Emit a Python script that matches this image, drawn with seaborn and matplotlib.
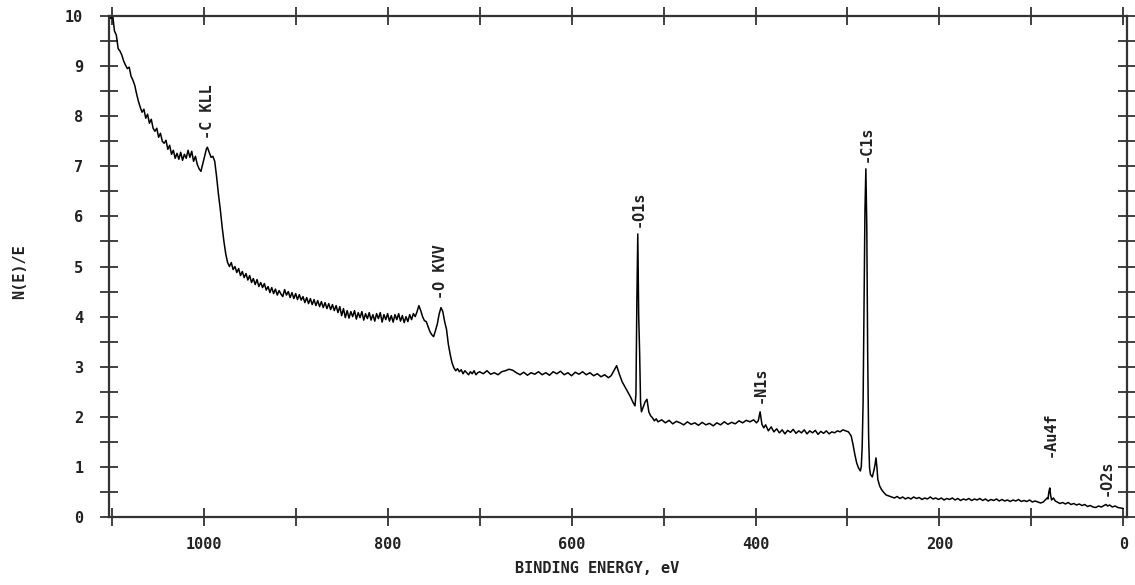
import numpy as np
import pandas as pd
import matplotlib
matplotlib.use("Agg")
import matplotlib.pyplot as plt
from matplotlib.ticker import MultipleLocator
import seaborn as sns

# ---- data (binding energy in eV, N(E)/E) ----
energy_ev = [
    1103, 1101, 1099, 1097, 1095, 1093, 1091, 1089, 1087, 1085, 1083, 1081, 1079, 1077, 1075,
    1073, 1071, 1069, 1067, 1065, 1063, 1061, 1059, 1057, 1055, 1053, 1051, 1049, 1047, 1045,
    1043, 1041, 1039, 1037, 1035, 1033, 1031, 1029, 1027, 1025, 1023, 1021, 1019, 1017, 1015,
    1013, 1011, 1009, 1007, 1005, 1003, 1001, 999, 997, 996, 994, 992, 990, 988, 986,
    984, 982, 980, 978, 976, 974, 972, 970, 968, 966, 964, 962, 960, 958, 956,
    954, 952, 950, 948, 946, 944, 942, 940, 938, 936, 934, 932, 930, 928, 926,
    924, 922, 920, 918, 916, 914, 912, 910, 908, 906, 904, 902, 900, 898, 896,
    894, 892, 890, 888, 886, 884, 882, 880, 878, 876, 874, 872, 870, 868, 866,
    864, 862, 860, 858, 856, 854, 852, 850, 848, 846, 844, 842, 840, 838, 836,
    834, 832, 830, 828, 826, 824, 822, 820, 818, 816, 814, 812, 810, 808, 806,
    804, 802, 800, 798, 796, 794, 792, 790, 788, 786, 784, 782, 780, 778, 776,
    774, 772, 770, 768, 766, 764, 762, 760, 758, 756, 754, 752, 750, 748, 746,
    744, 742, 740, 738, 736, 734, 732, 730, 728, 726, 724, 722, 720, 718, 716,
    714, 712, 710, 708, 706, 704, 702, 700, 696, 692, 688, 684, 680, 676, 672,
    668, 664, 660, 656, 652, 648, 644, 640, 636, 632, 628, 624, 620, 616, 612,
    608, 604, 600, 596, 592, 588, 584, 580, 576, 572, 568, 564, 560, 557, 554,
    551, 548, 545, 542, 539, 536, 533, 531, 530, 529, 528, 527, 526, 525, 524,
    522, 520, 518, 516, 514, 512, 510, 508, 506, 502, 498, 494, 490, 486, 482,
    478, 474, 470, 466, 462, 458, 454, 450, 446, 442, 438, 434, 430, 426, 422,
    418, 414, 410, 406, 402, 399, 397, 395, 393, 391, 389, 386, 383, 380, 377,
    374, 371, 368, 365, 362, 359, 356, 353, 350, 347, 344, 341, 338, 335, 332,
    329, 326, 323, 320, 317, 314, 311, 308, 305, 302, 299, 296, 294, 292, 290,
    288, 286, 285, 284, 283, 282, 281, 280, 279, 278, 277, 276, 275, 273, 271,
    270, 269, 268, 267, 265, 263, 261, 258, 255, 252, 249, 246, 243, 240, 237,
    234, 231, 228, 225, 222, 219, 216, 213, 210, 207, 204, 201, 198, 195, 192,
    189, 186, 183, 180, 177, 174, 171, 168, 165, 162, 159, 156, 153, 150, 147,
    144, 141, 138, 135, 132, 129, 126, 123, 120, 117, 114, 111, 108, 105, 102,
    99, 96, 93, 90, 87, 85, 83, 82, 81, 80, 79, 78, 76, 74, 72,
    69, 66, 63, 60, 57, 54, 51, 48, 45, 42, 39, 36, 33, 30, 27,
    24, 21, 19, 17, 15, 12, 9, 6, 3, 0,
]
intensity = [
    10.00, 9.95, 10.02, 9.70, 9.62, 9.35, 9.30, 9.22, 9.10, 9.02, 8.95, 8.98, 8.80, 8.72, 8.62,
    8.45, 8.30, 8.18, 8.08, 8.14, 7.96, 8.04, 7.86, 7.94, 7.76, 7.70, 7.76, 7.58, 7.66, 7.50,
    7.46, 7.52, 7.34, 7.42, 7.24, 7.32, 7.16, 7.26, 7.14, 7.28, 7.12, 7.24, 7.16, 7.32, 7.18,
    7.30, 7.10, 7.20, 7.04, 6.95, 6.90, 7.05, 7.20, 7.35, 7.38, 7.28, 7.18, 7.20, 7.10, 6.80,
    6.45, 6.15, 5.80, 5.50, 5.25, 5.08, 5.00, 5.08, 4.94, 5.00, 4.88, 4.96, 4.82, 4.90, 4.78,
    4.86, 4.73, 4.82, 4.68, 4.76, 4.64, 4.74, 4.60, 4.68, 4.58, 4.66, 4.53, 4.60, 4.48, 4.58,
    4.46, 4.55, 4.43, 4.52, 4.45, 4.40, 4.54, 4.43, 4.50, 4.38, 4.48, 4.36, 4.46, 4.34, 4.44,
    4.33, 4.40, 4.28, 4.38, 4.26, 4.36, 4.24, 4.34, 4.22, 4.32, 4.20, 4.30, 4.18, 4.28, 4.16,
    4.26, 4.14, 4.24, 4.12, 4.22, 4.08, 4.20, 4.02, 4.16, 3.98, 4.12, 3.97, 4.10, 4.00, 4.12,
    3.95, 4.08, 3.98, 4.10, 3.93, 4.06, 3.96, 4.08, 3.93, 4.04, 3.91, 4.06, 3.96, 4.08, 3.89,
    4.04, 3.94, 4.06, 3.91, 4.02, 3.89, 4.04, 3.94, 4.06, 3.91, 4.02, 3.88, 4.00, 3.90, 4.04,
    3.94, 4.06, 4.00, 4.10, 4.22, 4.12, 4.00, 3.92, 3.90, 3.80, 3.70, 3.64, 3.60, 3.72, 3.85,
    4.05, 4.18, 4.10, 3.90, 3.75, 3.45, 3.25, 3.08, 2.98, 2.92, 2.96, 2.90, 2.94, 2.86, 2.92,
    2.88, 2.84, 2.90, 2.86, 2.92, 2.84, 2.88, 2.90, 2.86, 2.92, 2.85, 2.88, 2.84, 2.90, 2.92,
    2.95, 2.93, 2.88, 2.84, 2.89, 2.83, 2.88, 2.85, 2.90, 2.84, 2.88, 2.83, 2.90, 2.86, 2.91,
    2.84, 2.88, 2.82, 2.89, 2.85, 2.90, 2.84, 2.88, 2.82, 2.86, 2.80, 2.84, 2.78, 2.82, 2.92,
    3.02, 2.85, 2.70, 2.60, 2.50, 2.40, 2.28, 2.22, 2.45, 4.30, 5.65, 4.00, 3.30, 2.30, 2.10,
    2.20, 2.30, 2.35, 2.10, 2.02, 1.98, 1.92, 1.96, 1.90, 1.94, 1.88, 1.93, 1.86, 1.91, 1.88,
    1.84, 1.90, 1.85, 1.88, 1.83, 1.89, 1.84, 1.87, 1.82, 1.88, 1.84, 1.90, 1.85, 1.89, 1.86,
    1.92, 1.88, 1.93, 1.90, 1.94, 1.88, 1.92, 2.10, 1.85, 1.78, 1.84, 1.72, 1.80, 1.70, 1.76,
    1.68, 1.74, 1.66, 1.73, 1.69, 1.75, 1.67, 1.72, 1.68, 1.74, 1.66, 1.72, 1.68, 1.73, 1.65,
    1.71, 1.67, 1.72, 1.66, 1.70, 1.68, 1.72, 1.70, 1.74, 1.72, 1.70, 1.62, 1.45, 1.25, 1.08,
    0.98, 0.92, 1.00, 1.40, 2.30, 4.20, 6.10, 6.95, 5.80, 3.20, 1.60, 0.98, 0.85, 0.80, 0.95,
    1.05, 1.18, 1.00, 0.75, 0.62, 0.55, 0.50, 0.44, 0.42, 0.40, 0.38, 0.41, 0.37, 0.40, 0.36,
    0.39, 0.36, 0.40, 0.37, 0.39, 0.35, 0.38, 0.36, 0.40, 0.36, 0.38, 0.35, 0.38, 0.34, 0.37,
    0.35, 0.38, 0.34, 0.37, 0.33, 0.36, 0.34, 0.37, 0.33, 0.36, 0.34, 0.37, 0.33, 0.36, 0.32,
    0.35, 0.33, 0.36, 0.32, 0.35, 0.32, 0.34, 0.31, 0.34, 0.32, 0.35, 0.31, 0.33, 0.31, 0.34,
    0.30, 0.32, 0.30, 0.28, 0.30, 0.34, 0.38, 0.36, 0.50, 0.58, 0.42, 0.34, 0.38, 0.32, 0.30,
    0.27, 0.29, 0.26, 0.29, 0.25, 0.27, 0.24, 0.26, 0.23, 0.25, 0.21, 0.23, 0.20, 0.19, 0.22,
    0.20, 0.23, 0.25, 0.22, 0.24, 0.20, 0.22, 0.19, 0.18, 0.17,
]

peak_labels = ["-C KLL", "-O KVV", "-O1s", "-N1s", "-C1s", "-Au4f", "-O2s"]
peak_energies = [996, 742, 528, 395, 280, 80, 19]

x_ticks_labeled = [1000, 800, 600, 400, 200, 0]
y_ticks = [0, 1, 2, 3, 4, 5, 6, 7, 8, 9, 10]

df = pd.DataFrame({"energy": energy_ev, "nE": intensity})

sns.set_style("ticks")
mono = ["DejaVu Sans Mono", "DejaVu Sans"]
plt.rcParams["font.family"] = mono

fig = plt.figure(figsize=(11.35, 5.85), dpi=100)
ax = fig.add_axes([0.096, 0.1162, 0.897, 0.8564])

sns.lineplot(data=df, x="energy", y="nE", ax=ax, color="black", linewidth=1.1,
             sort=False, estimator=None)

ax.set_xlim(1103, -4)
ax.set_ylim(0, 10)

ax.set_xticks(x_ticks_labeled)
ax.xaxis.set_minor_locator(MultipleLocator(100))
ax.set_yticks(y_ticks)
ax.yaxis.set_minor_locator(MultipleLocator(0.5))

axis_col = "#333333"
for s in ax.spines.values():
    s.set_visible(True)
    s.set_color(axis_col)
    s.set_linewidth(1.6)

ax.tick_params(which="both", direction="inout", length=13, width=1.3, color=axis_col,
               top=True, right=True, bottom=True, left=True,
               labeltop=False, labelright=False)
ax.tick_params(axis="x", which="major", pad=8, labelsize=11)
ax.tick_params(axis="y", which="major", pad=12, labelsize=11)
for lab in ax.get_xticklabels() + ax.get_yticklabels():
    lab.set_fontweight("bold")
    lab.set_color("#222222")

ax.set_xlabel("BINDING ENERGY, eV", fontsize=11, fontweight="bold", color="#222222")
ax.set_ylabel("N(E)/E", fontsize=11, fontweight="bold", color="#222222")
ax.xaxis.set_label_coords(0.479, -0.088)
ax.yaxis.set_label_coords(-0.08, 0.49)

gaps_pt = [6, 6, 5, 6, 5, 22, 6]
e_arr = np.array(energy_ev)
i_arr = np.array(intensity)
for lab, e, g in zip(peak_labels, peak_energies, gaps_pt):
    m = np.abs(e_arr - e) <= 2
    ypk = i_arr[m].max()
    ax.annotate(lab, xy=(e, ypk), xytext=(0, g), textcoords="offset points",
                rotation=90, ha="center", va="bottom", fontsize=11,
                fontweight="bold", color="#222222")

ax.grid(False)
fig.savefig("out.png", dpi=100, facecolor="white")
